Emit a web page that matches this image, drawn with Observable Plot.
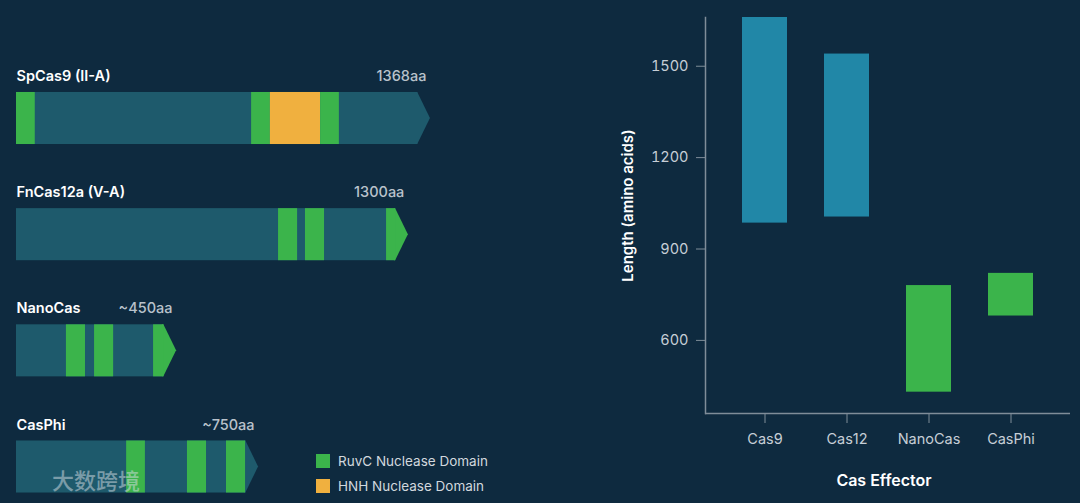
<!DOCTYPE html>
<html>
<head>
<meta charset="utf-8">
<script src="https://cdn.jsdelivr.net/npm/d3@7"></script>
<script src="https://cdn.jsdelivr.net/npm/@observablehq/plot@0.6"></script>
<style>
  html, body { margin: 0; padding: 0; background: #0e2a3f; }
  #wrap { position: relative; width: 1080px; height: 503px; background: #0e2a3f; overflow: hidden;
          font-family: Inter, "Noto Sans", sans-serif; }
  #left { position: absolute; left: 0; top: 0; }
  #right { position: absolute; left: 600px; top: 0; }
  .leg { position: absolute; left: 316px; display: flex; align-items: center; color: #d2d8de; font-size: 13.5px; }
  .leg .sw { width: 14px; height: 14px; margin-right: 8px; }
  #wm { position: absolute; left: 52px; top: 463px; font-family: "Noto Sans CJK SC", sans-serif; font-size: 22px;
        font-weight: 500; color: rgba(215,222,228,0.5); letter-spacing: 0px; }
</style>
</head>
<body>
<div id="wrap">
  <div id="left"></div>
  <div id="right"></div>
  <div class="leg" style="top:453px"><div class="sw" style="background:#3bb44b"></div>RuvC Nuclease Domain</div>
  <div class="leg" style="top:478px"><div class="sw" style="background:#f0b03f"></div>HNH Nuclease Domain</div>
  <div id="wm">大数跨境</div>
</div>
<script>
// ---------- Left schematic data ----------
const constructs = ["SpCas9 (II-A)", "FnCas12a (V-A)", "NanoCas", "CasPhi"];
const sizeLabels = ["1368aa", "1300aa", "~450aa", "~750aa"];
const schematicEnd = [1368, 1295, 529, 800];   // drawn length (arrow tip), aa
// domains: [construct index, type, start aa, end aa]
const domains = [
  [0, "RuvC", 0, 62],
  [0, "RuvC", 777, 839],
  [0, "HNH", 839, 1005],
  [0, "RuvC", 1005, 1067],
  [1, "RuvC", 866, 929],
  [1, "RuvC", 955, 1018],
  [1, "RuvC", 1223, 1295],
  [2, "RuvC", 165, 228],
  [2, "RuvC", 258, 321],
  [2, "RuvC", 453, 529],
  [3, "RuvC", 364, 426],
  [3, "RuvC", 565, 628],
  [3, "RuvC", 694, 757]
];

// ---------- Right chart data ----------
const effectors = ["Cas9", "Cas12", "NanoCas", "CasPhi"];
const lengthMin = [985, 1005, 430, 680];
const lengthMax = [1660, 1540, 780, 820];
const yTicks = [600, 900, 1200, 1500];

// ---------- styles ----------
const TEAL = "#1e5a6c", GREEN = "#3bb44b", ORANGE = "#f0b03f", BLUE = "#2187a7";
const AXIS = "#7f8d99", TICKTXT = "#c6ced6";
const domainColor = {RuvC: GREEN, HNH: ORANGE};
const HEAD = 42;   // arrowhead length in aa units
const H = 0.224;   // half bar height in row units

const rows = constructs.map((name, i) => ({name, row: i, end: schematicEnd[i], size: sizeLabels[i]}));
const segs = domains.map(([c, type, s, e]) => ({row: c, type, start: s, end: Math.min(e, schematicEnd[c] - HEAD)}));
const heads = [];
rows.forEach(r => {
  const bodyEnd = r.end - HEAD;
  const cover = domains.find(([c, t, s, e]) => c === r.row && e >= r.end);
  const col = cover ? domainColor[cover[1]] : TEAL;
  heads.push({row: r.row, x: bodyEnd - 4, y1: r.row - H, y2: r.row + H, col});
  heads.push({row: r.row, x: bodyEnd, y1: r.row - H, y2: r.row + H, col});
  heads.push({row: r.row, x: r.end, y1: r.row, y2: r.row, col});
});

const left = Plot.plot({
  width: 600, height: 503,
  marginLeft: 16, marginRight: 0, marginTop: 0, marginBottom: 0,
  style: {background: "transparent", fontFamily: "Inter, 'Noto Sans', sans-serif"},
  x: {domain: [0, 1930], axis: null},
  y: {domain: [0, 3], range: [118, 466.5], axis: null},
  color: {type: "identity"},
  marks: [
    Plot.rect(rows, {x1: 0, x2: d => d.end - HEAD, y1: d => d.row - H, y2: d => d.row + H, fill: TEAL}),
    Plot.areaY(heads, {x: "x", y1: "y1", y2: "y2", z: "row", fill: "col", curve: "linear"}),
    Plot.rect(segs, {x1: "start", x2: "end", y1: d => d.row - H, y2: d => d.row + H, fill: d => domainColor[d.type]}),
    Plot.text(rows, {x: 0, y: "row", dy: -42, text: "name", textAnchor: "start", fill: "#ffffff",
      fontSize: 14.5, fontWeight: 600}),
    Plot.text(rows, {x: "end", y: "row", dy: -42, dx: -4, text: "size", textAnchor: "end", fill: "#b9c2cb",
      fontSize: 14.5, fontWeight: 500})
  ]
});
document.getElementById("left").appendChild(left);

const bars = effectors.map((e, i) => ({effector: e, lo: lengthMin[i], hi: lengthMax[i], col: i < 2 ? BLUE : GREEN}));

const right = Plot.plot({
  width: 480, height: 503,
  marginLeft: 105, marginRight: 10, marginTop: 17, marginBottom: 90,
  style: {background: "transparent", fontFamily: "Inter, 'Noto Sans', sans-serif"},
  x: {domain: effectors, padding: 0.45, axis: null},
  y: {domain: [360, 1660], axis: null},
  color: {type: "identity"},
  marks: [
    Plot.barY(bars, {x: "effector", y1: "lo", y2: "hi", fill: "col"}),
    Plot.axisY({ticks: yTicks, tickFormat: d3.format("d"), tickSize: 9, tickPadding: 8, stroke: AXIS, fill: TICKTXT,
      fontSize: 14.5, label: null}),
    Plot.axisX({tickSize: 10, tickPadding: 10, stroke: AXIS, fill: TICKTXT, fontSize: 14.5, label: null}),
    Plot.ruleY([360], {stroke: AXIS, strokeWidth: 1.5}),
    Plot.frame({anchor: "left", stroke: AXIS, strokeWidth: 1.5}),
    Plot.text(["Length (amino acids)"], {frameAnchor: "left", rotate: -90, dx: -77, dy: -10, text: d => d,
      textAnchor: "middle", lineAnchor: "middle", fill: "#ffffff", fontSize: 15, fontWeight: 600}),
    Plot.text(["Cas Effector"], {frameAnchor: "bottom", dy: 67, dx: -4, text: d => d,
      textAnchor: "middle", lineAnchor: "middle", fill: "#ffffff", fontSize: 16, fontWeight: 600})
  ]
});
document.getElementById("right").appendChild(right);
</script>
</body>
</html>
